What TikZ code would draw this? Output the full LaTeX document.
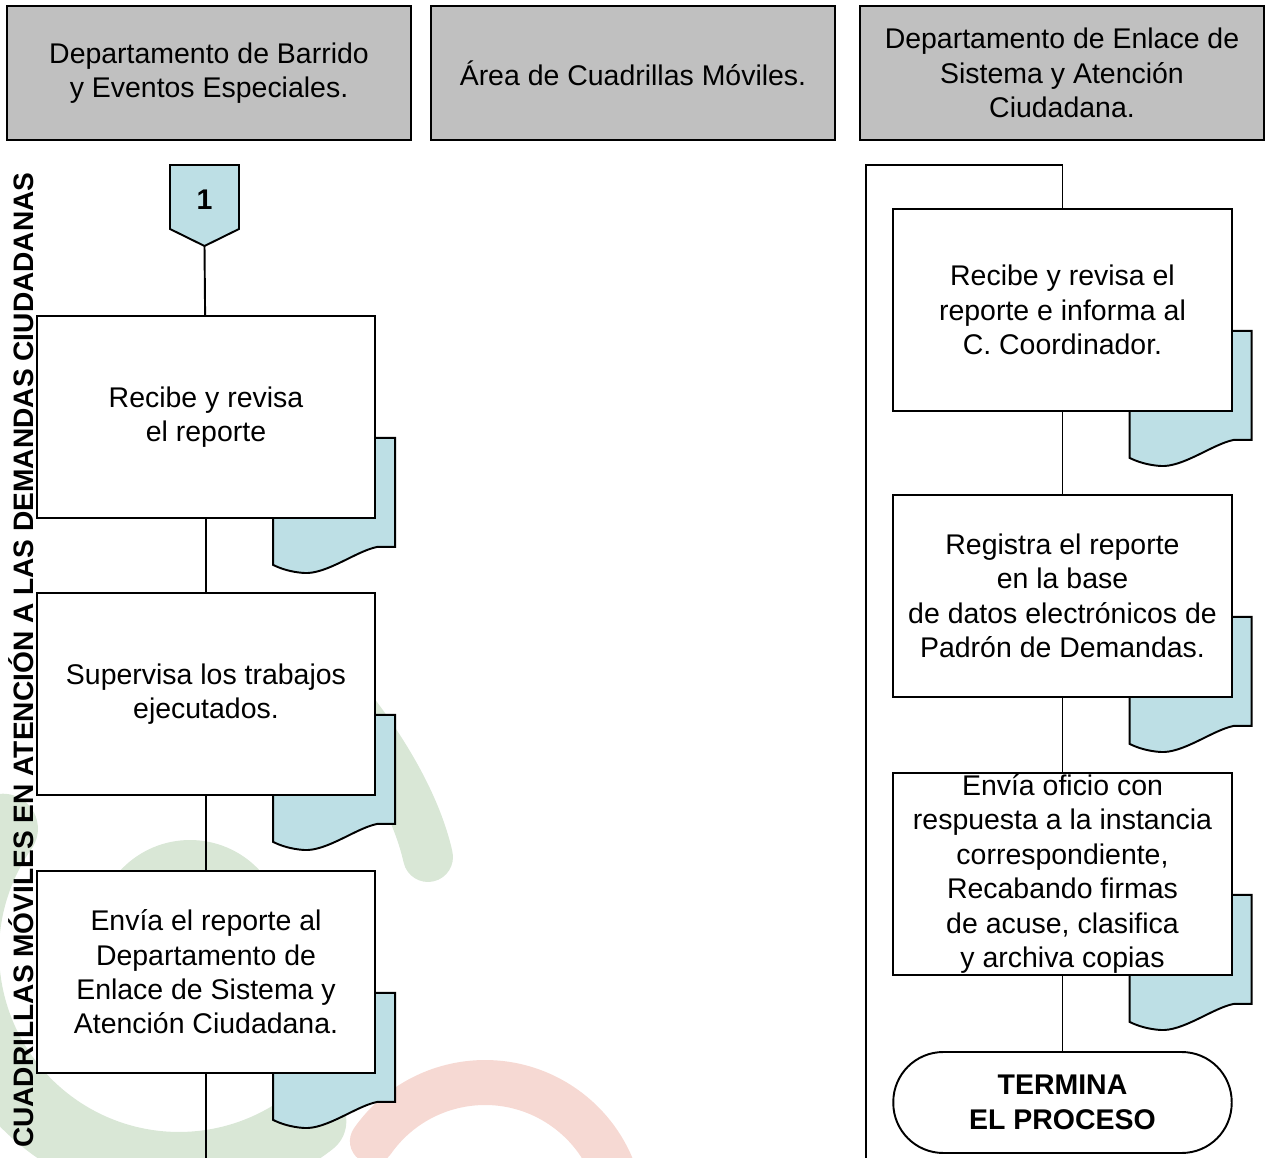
\documentclass[tikz,border=0pt]{standalone}
\usepackage{fontspec}
\setmainfont{Liberation Sans}
\usetikzlibrary{calc}
\definecolor{docblue}{RGB}{189,223,229}
\definecolor{hdrgray}{RGB}{192,192,192}
\definecolor{wmgreen}{RGB}{217,231,214}
\definecolor{wmpink}{RGB}{246,217,211}
\pgfdeclarelayer{wm}
\pgfdeclarelayer{docs}
\pgfsetlayers{wm,docs,main}
\newcommand{\bodyfont}{\fontsize{16.2}{19.6}\selectfont}
\newcommand{\docsheet}[1]{\draw[docfill, shift={(#1.south east)}] (-103,-81) -- (19,-81) -- (19,28) -- (1,28) .. controls (-20,32) and (-50,56) .. (-73,54) .. controls (-85,53) and (-95,50) .. (-103,46) -- cycle;}

\begin{document}
\begin{tikzpicture}[x=0.02cm, y=-0.02cm,
hdr/.style={draw, fill=hdrgray, line width=1.1pt, minimum width=8.08cm, minimum height=2.68cm, align=center, inner sep=0pt, font=\bodyfont},
proc/.style={draw, fill=white, line width=1.1pt, minimum width=6.77cm, minimum height=4.04cm, align=center, inner sep=0pt, font=\bodyfont},
term/.style={proc, minimum height=2.02cm, rounded corners=1cm, font=\bodyfont\bfseries},
docfill/.style={draw, fill=docblue, line width=1.1pt},
flow/.style={line width=1.1pt}]
\useasboundingbox (0,0) rectangle (1265,1158);

\node[hdr] (h1) at (209,73) {Departamento de Barrido\\y Eventos Especiales.};
\node[hdr] (h2) at (633,73) {Área de Cuadrillas Móviles.};
\node[hdr] (h3) at (1062,73) {Departamento de Enlace de\\Sistema y Atención\\Ciudadana.};

\node[rotate=90, anchor=base east, inner sep=0pt, font=\fontsize{16}{19.6}\selectfont\bfseries] (ttl) at (33,172) {CUADRILLAS MÓVILES EN ATENCIÓN A LAS DEMANDAS CIUDADANAS};

\draw[docfill] (170,165) -- (239,165) -- (239,229) -- (204.5,246) -- (170,229) -- cycle;
\node[font=\bodyfont\bfseries] (one) at (204.5,200) {1};
\coordinate (onetip) at (204.5,246);

\node[proc] (b1) at (206,417) {Recibe y revisa\\el reporte};
\node[proc] (b2) at (206,694) {Supervisa los trabajos\\ejecutados.};
\node[proc] (b3) at (206,972) {Envía el reporte al\\Departamento de\\Enlace de Sistema y\\Atención Ciudadana.};
\node[proc] (b4) at (1062.5,310) {Recibe y revisa el\\reporte e informa al\\C. Coordinador.};
\node[proc] (b5) at (1062.5,596) {Registra el reporte\\en la base\\de datos electrónicos de\\Padrón de Demandas.};
\node[proc] (b6) at (1062.5,874) {Envía oficio con\\respuesta a la instancia\\correspondiente,\\Recabando firmas\\de acuse, clasifica\\y archiva copias};
\node[term] (fin) at (1062.5,1102.5) {TERMINA\\EL PROCESO};

\coordinate (lout) at (206,1175);
\coordinate (rin) at (866,1175);
\coordinate (rtop) at (1062.5,165);
\draw[flow] (onetip) -- (b1);
\draw[flow] (b1) -- (b2);
\draw[flow] (b2) -- (b3);
\draw[flow] (b3) -- (lout);
\draw[flow] (rin) |- (rtop) -- (b4);
\draw[flow] (b4) -- (b5);
\draw[flow] (b5) -- (b6);
\draw[flow] (b6) -- (fin);

\begin{pgfonlayer}{docs}
\foreach \b in {b1,b2,b3,b4,b5,b6} {\docsheet{\b}}
\end{pgfonlayer}

\begin{pgfonlayer}{wm}
\draw[wmgreen, line width=1.4cm, line cap=round] (179,952) ++(145:4.3cm) arc[start angle=145, end angle=308, radius=4.3cm];
\fill[wmgreen] (190,935) circle[radius=1.9cm];
\draw[wmgreen, line width=1cm, line cap=round] (290,640) .. controls (360,710) and (413,790) .. (428,857);
\draw[wmpink, line width=0.9cm, line cap=round] (485,1220) ++(145:2.75cm) arc[start angle=145, end angle=-20, radius=2.75cm];
\end{pgfonlayer}
\end{tikzpicture}
\end{document}
